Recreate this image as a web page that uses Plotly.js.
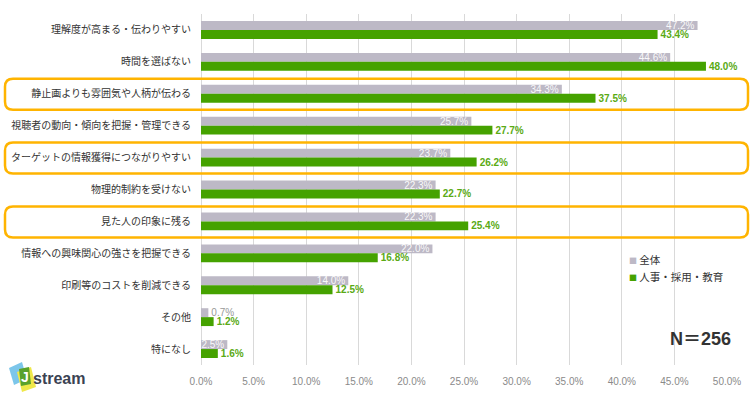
<!DOCTYPE html>
<html>
<head>
<meta charset="utf-8">
<script src="https://cdn.plot.ly/plotly-3.0.1.min.js"></script>
<style>html,body{margin:0;padding:0;background:#fff;}#chart{width:753px;height:398px;}</style>
</head>
<body>
<div id="chart"></div>
<script>
// ---- data ----
const categories = [
  "理解度が高まる・伝わりやすい",
  "時間を選ばない",
  "静止画よりも雰囲気や人柄が伝わる",
  "視聴者の動向・傾向を把握・管理できる",
  "ターゲットの情報獲得につながりやすい",
  "物理的制約を受けない",
  "見た人の印象に残る",
  "情報への興味関心の強さを把握できる",
  "印刷等のコストを削減できる",
  "その他",
  "特になし"
];
const seriesNames = ["全体", "人事・採用・教育"];
const allValues = [47.2, 44.6, 34.3, 25.7, 23.7, 22.3, 22.3, 22.0, 14.0, 0.7, 2.5];
const hrValues  = [43.4, 48.0, 37.5, 27.7, 26.2, 22.7, 25.4, 16.8, 12.5, 1.2, 1.6];
const highlighted = ["静止画よりも雰囲気や人柄が伝わる", "ターゲットの情報獲得につながりやすい", "見た人の印象に残る"];
const sampleLabel = "N＝256";
const tickValues = [0, 5, 10, 15, 20, 25, 30, 35, 40, 45, 50];

// ---- layout constants ----
const W = 753, H = 398;
const M = {l: 201, r: 26, t: 14, b: 33};
const PW = W - M.l - M.r, PH = H - M.t - M.b;
const GRAY = "#bdb9c6", GREEN = "#45a200", GREEN_TXT = "#5aaa14", ORANGE = "#FFB400";
const px = x => (x - M.l) / PW;
const py = y => (M.t + PH - y) / PH;

const fmt = v => v.toFixed(1) + "%";

const traces = [
  {
    type: "bar", orientation: "h", name: seriesNames[0],
    y: categories, x: allValues,
    marker: {color: GRAY},
    text: allValues.map(fmt),
    textposition: allValues.map(v => v < 2 ? "outside" : "inside"),
    insidetextanchor: "end",
    textangle: 0,
    constraintext: "none",
    textfont: {family: "Liberation Sans, Arial, sans-serif", size: 10,
               color: allValues.map(v => v < 2 ? "#999999" : "rgba(255,255,255,0.92)")},
    cliponaxis: false,
    hoverinfo: "none"
  },
  {
    type: "bar", orientation: "h", name: seriesNames[1],
    y: categories, x: hrValues,
    marker: {color: GREEN},
    text: hrValues.map(fmt),
    textposition: "outside",
    textangle: 0,
    constraintext: "none",
    textfont: {family: "Liberation Sans, Arial, sans-serif", size: 10, color: GREEN_TXT, weight: "bold"},
    cliponaxis: false,
    hoverinfo: "none"
  }
];

// highlight boxes (rounded rectangles)
function roundRect(x0, y0, x1, y1, r) {
  const P = (x, y) => px(x).toFixed(5) + "," + py(y).toFixed(5);
  return "M" + P(x0 + r, y0) + " L" + P(x1 - r, y0) + " Q" + P(x1, y0) + " " + P(x1, y0 + r) +
         " L" + P(x1, y1 - r) + " Q" + P(x1, y1) + " " + P(x1 - r, y1) +
         " L" + P(x0 + r, y1) + " Q" + P(x0, y1) + " " + P(x0, y1 - r) +
         " L" + P(x0, y0 + r) + " Q" + P(x0, y0) + " " + P(x0 + r, y0) + " Z";
}
const rowH = PH / categories.length;
const shapes = highlighted.map(c => {
  const i = categories.indexOf(c);
  const cy = M.t + (i + 0.5) * rowH;
  return {type: "path", xref: "paper", yref: "paper",
          path: roundRect(5, cy - 15, 748, cy + 16, 8),
          line: {color: ORANGE, width: 2.5}, fillcolor: "rgba(0,0,0,0)"};
});

// logo shapes
function poly(pts) {
  return "M" + pts.map(p => px(p[0]).toFixed(5) + "," + py(p[1]).toFixed(5)).join(" L") + " Z";
}
shapes.push({type: "path", xref: "paper", yref: "paper", layer: "above",
  path: poly([[9, 368], [22, 362], [27, 379], [14, 385]]), line: {width: 0}, fillcolor: "#7cc6ea"});
shapes.push({type: "path", xref: "paper", yref: "paper", layer: "above",
  path: poly([[17, 372], [31, 367], [36, 387], [22, 392]]), line: {width: 0}, fillcolor: "#efe84a"});
shapes.push({type: "path", xref: "paper", yref: "paper", layer: "above",
  path: poly([[19, 369], [29, 367], [31, 384], [21, 386]]), line: {width: 0}, fillcolor: "#5aa22c"});

const base = {xref: "paper", yref: "paper", showarrow: false, xanchor: "center", yanchor: "middle"};
const annotations = [
  Object.assign({}, base, {x: px(700), y: py(339), text: "<b>" + sampleLabel + "</b>",
   font: {family: "Liberation Sans, Noto Sans CJK JP, sans-serif", size: 18, color: "#333333"}}),
  Object.assign({}, base, {x: px(627), y: py(259), xanchor: "left",
   text: '<span style="color:' + GRAY + ';font-size:8px">■</span> ' + seriesNames[0],
   font: {family: "Noto Sans CJK JP, sans-serif", size: 10.5, color: "#333333"}}),
  Object.assign({}, base, {x: px(627), y: py(276), xanchor: "left",
   text: '<span style="color:' + GREEN + ';font-size:8px">■</span> ' + seriesNames[1],
   font: {family: "Noto Sans CJK JP, sans-serif", size: 10.5, color: "#333333"}}),
  Object.assign({}, base, {x: px(25), y: py(377), text: "<b>J</b>",
   font: {family: "Liberation Sans, Arial, sans-serif", size: 14, color: "#ffffff"}}),
  Object.assign({}, base, {x: px(31), y: py(378), xanchor: "left", text: "stream",
   font: {family: "Liberation Sans, Arial, sans-serif", size: 16, color: "#3a4252", weight: "bold"}})
];

const layout = {
  width: W, height: H,
  margin: M,
  paper_bgcolor: "#ffffff", plot_bgcolor: "#ffffff",
  barmode: "group", bargap: 0.44, bargroupgap: 0,
  showlegend: false,
  font: {family: "Noto Sans CJK JP, sans-serif", color: "#333333"},
  xaxis: {
    range: [0, 50], tickvals: tickValues, ticktext: tickValues.map(v => v.toFixed(1) + "%"),
    showgrid: true, gridcolor: "#d9d9d9", gridwidth: 1,
    zeroline: true, zerolinecolor: "#d9d9d9", zerolinewidth: 1,
    showline: false, ticks: "outside", ticklen: 7, tickcolor: "rgba(0,0,0,0)",
    tickfont: {family: "Liberation Sans, Arial, sans-serif", size: 10, color: "#8a8a8a"},
    fixedrange: true
  },
  yaxis: {
    autorange: "reversed", type: "category",
    showgrid: false, zeroline: false, showline: false,
    ticks: "outside", ticklen: 7, tickcolor: "rgba(0,0,0,0)",
    tickfont: {family: "Noto Sans CJK JP, sans-serif", size: 10, color: "#333333"},
    fixedrange: true
  },
  shapes: shapes,
  annotations: annotations
};

Plotly.newPlot("chart", traces, layout, {displayModeBar: false, staticPlot: true});
</script>
</body>
</html>
